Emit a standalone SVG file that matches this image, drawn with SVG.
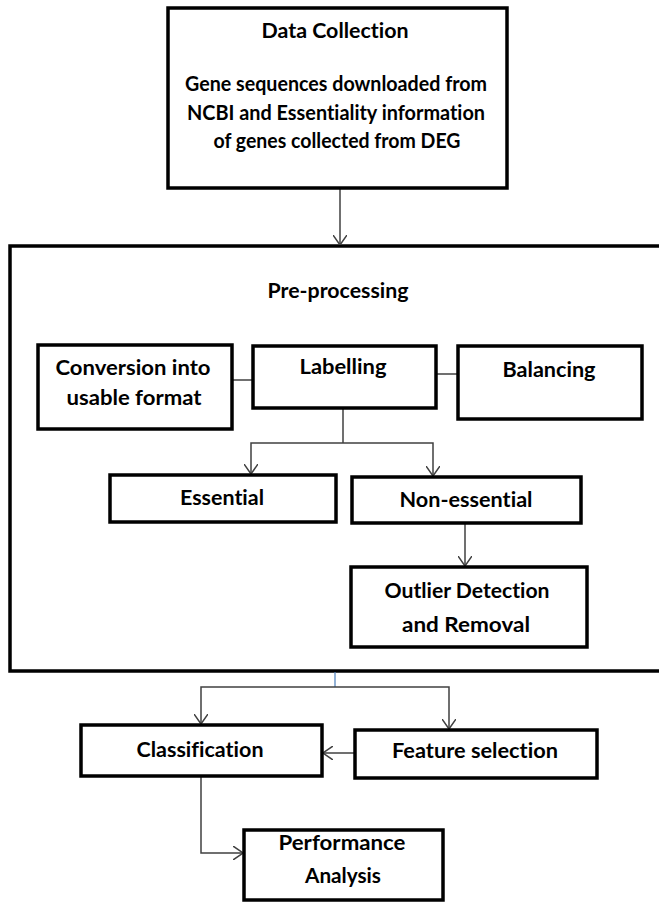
<svg xmlns="http://www.w3.org/2000/svg" width="659" height="902" viewBox="0 0 659 902">
<style>
  .box { fill: #fff; stroke: #000; stroke-width: 3.5; }
  .frame { fill: none; stroke: #000; stroke-width: 3.5; }
  .t { font-family: Lato, "Liberation Sans", sans-serif; font-weight: bold; font-size: 20px; fill: #000; text-anchor: middle; font-variant-ligatures: none; }
  .c { fill: none; stroke: #404040; stroke-width: 1.5; }
  .a { marker-end: url(#arr); }
</style>
<defs>
  <marker id="arr" viewBox="0 0 10 14" refX="10" refY="7" markerWidth="10" markerHeight="14" markerUnits="userSpaceOnUse" orient="auto">
    <path d="M0,0 L10,7 L0,14" fill="none" stroke="#404040" stroke-width="1.5"/>
  </marker>
</defs>
<rect width="659" height="902" fill="#fff"/>

<g id="preprocessing">
  <path class="frame" d="M662,246 H10 V671 H662"/>
  <text class="t" x="338" y="298" textLength="141" lengthAdjust="spacingAndGlyphs">Pre-processing</text>
</g>

<g id="connectors">
  <line class="c a" x1="340" y1="188" x2="340" y2="245"/>
  <line class="c" x1="232" y1="380" x2="253" y2="380"/>
  <line class="c" x1="436" y1="374" x2="458" y2="374"/>
  <polyline class="c" points="343,408 343,443"/>
  <polyline class="c a" points="343,443 251,443 251,474"/>
  <polyline class="c a" points="343,443 433,443 433,476"/>
  <line class="c a" x1="465" y1="523" x2="465" y2="566"/>
  <line x1="335" y1="672" x2="335" y2="687" stroke="#4a7ebb" stroke-width="1.2"/>
  <polyline class="c a" points="335,687 201,687 201,724"/>
  <polyline class="c a" points="335,687 449,687 449,729"/>
  <line class="c a" x1="355" y1="753" x2="323" y2="753"/>
  <polyline class="c a" points="201,776 201,853 243,853"/>
</g>

<g id="data-collection">
  <rect class="box" x="168" y="8" width="339" height="180"/>
  <text class="t" x="335" y="38" textLength="147" lengthAdjust="spacingAndGlyphs">Data Collection</text>
  <text class="t" x="336" y="91" textLength="302" lengthAdjust="spacingAndGlyphs">Gene sequences downloaded from</text>
  <text class="t" x="336" y="120" textLength="298" lengthAdjust="spacingAndGlyphs">NCBI and Essentiality information</text>
  <text class="t" x="337" y="148" textLength="247" lengthAdjust="spacingAndGlyphs">of genes collected from DEG</text>
</g>

<g id="conversion">
  <rect class="box" x="38" y="345" width="194" height="84"/>
  <text class="t" x="133" y="375" textLength="155" lengthAdjust="spacingAndGlyphs">Conversion into</text>
  <text class="t" x="134" y="405" textLength="135" lengthAdjust="spacingAndGlyphs">usable format</text>
</g>

<g id="labelling">
  <rect class="box" x="253" y="346" width="183" height="62"/>
  <text class="t" x="343" y="374" textLength="87" lengthAdjust="spacingAndGlyphs">Labelling</text>
</g>

<g id="balancing">
  <rect class="box" x="458" y="346" width="184" height="73"/>
  <text class="t" x="549" y="377" textLength="93" lengthAdjust="spacingAndGlyphs">Balancing</text>
</g>

<g id="essential">
  <rect class="box" x="110" y="475" width="226" height="47"/>
  <text class="t" x="222" y="505" textLength="84" lengthAdjust="spacingAndGlyphs">Essential</text>
</g>

<g id="non-essential">
  <rect class="box" x="352" y="477" width="229" height="46"/>
  <text class="t" x="466" y="507" textLength="133" lengthAdjust="spacingAndGlyphs">Non-essential</text>
</g>

<g id="outlier">
  <rect class="box" x="351" y="567" width="236" height="80"/>
  <text class="t" x="467" y="598" textLength="165" lengthAdjust="spacingAndGlyphs">Outlier Detection</text>
  <text class="t" x="466" y="632" textLength="128" lengthAdjust="spacingAndGlyphs">and Removal</text>
</g>

<g id="classification">
  <rect class="box" x="81" y="725" width="241" height="51"/>
  <text class="t" x="200" y="757" textLength="127" lengthAdjust="spacingAndGlyphs">Classification</text>
</g>

<g id="feature-selection">
  <rect class="box" x="355" y="730" width="242" height="48"/>
  <text class="t" x="475" y="758" textLength="166" lengthAdjust="spacingAndGlyphs">Feature selection</text>
</g>

<g id="performance">
  <rect class="box" x="244" y="830" width="199" height="70"/>
  <text class="t" x="342" y="850" textLength="127" lengthAdjust="spacingAndGlyphs">Performance</text>
  <text class="t" x="343" y="883" textLength="76" lengthAdjust="spacingAndGlyphs">Analysis</text>
</g>
</svg>
